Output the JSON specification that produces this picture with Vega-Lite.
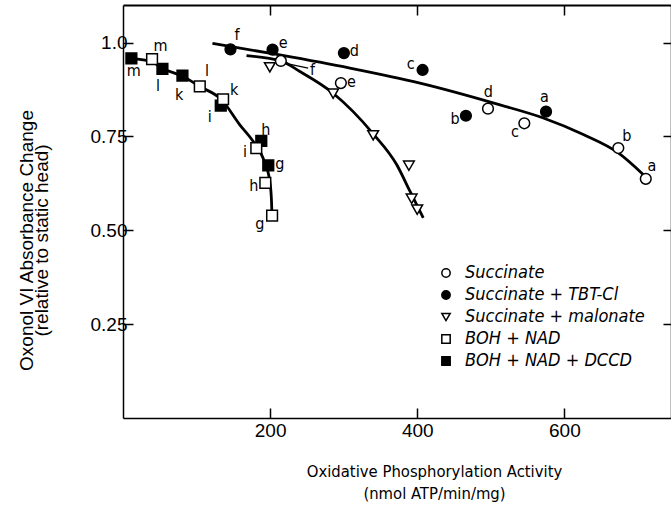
{
  "$schema": "https://vega.github.io/schema/vega-lite/v6.json",
  "width": 548,
  "height": 413,
  "autosize": {"type": "none"},
  "padding": {"left": 123, "top": 5, "right": 0, "bottom": 99},
  "background": "white",
  "config": {"view": {"stroke": null}, "font": "Liberation Sans"},
  "datasets": {
    "curves": [
      {"c": "succ", "o": 1, "x": 121.6, "y": 0.998},
      {"c": "succ", "o": 2, "x": 213.2, "y": 0.967},
      {"c": "succ", "o": 3, "x": 308.5, "y": 0.932},
      {"c": "succ", "o": 4, "x": 403.7, "y": 0.892},
      {"c": "succ", "o": 5, "x": 512.5, "y": 0.834},
      {"c": "succ", "o": 6, "x": 571.4, "y": 0.799},
      {"c": "succ", "o": 7, "x": 625.8, "y": 0.755},
      {"c": "succ", "o": 8, "x": 673.4, "y": 0.706},
      {"c": "succ", "o": 9, "x": 707.5, "y": 0.648},
      {"c": "malo", "o": 1, "x": 167.9, "y": 0.965},
      {"c": "malo", "o": 2, "x": 214.6, "y": 0.951},
      {"c": "malo", "o": 3, "x": 240.4, "y": 0.923},
      {"c": "malo", "o": 4, "x": 285.7, "y": 0.865},
      {"c": "malo", "o": 5, "x": 312.9, "y": 0.816},
      {"c": "malo", "o": 6, "x": 340.1, "y": 0.757},
      {"c": "malo", "o": 7, "x": 372.0, "y": 0.675},
      {"c": "malo", "o": 8, "x": 390.1, "y": 0.604},
      {"c": "malo", "o": 9, "x": 408.2, "y": 0.533},
      {"c": "boh", "o": 1, "x": 11.4, "y": 0.957},
      {"c": "boh", "o": 2, "x": 39.0, "y": 0.949},
      {"c": "boh", "o": 3, "x": 54.0, "y": 0.931},
      {"c": "boh", "o": 4, "x": 81.2, "y": 0.910},
      {"c": "boh", "o": 5, "x": 104.4, "y": 0.883},
      {"c": "boh", "o": 6, "x": 133.9, "y": 0.848},
      {"c": "boh", "o": 7, "x": 158.8, "y": 0.781},
      {"c": "boh", "o": 8, "x": 176.9, "y": 0.737},
      {"c": "boh", "o": 9, "x": 190.5, "y": 0.692},
      {"c": "boh", "o": 10, "x": 199.6, "y": 0.630},
      {"c": "boh", "o": 11, "x": 201.9, "y": 0.577},
      {"c": "boh", "o": 12, "x": 202.7, "y": 0.533}
    ],
    "points": [
      {"series": "Succinate + malonate", "x": 199.6, "y": 0.934},
      {"series": "Succinate + malonate", "x": 285.7, "y": 0.864},
      {"series": "Succinate + malonate", "x": 340.1, "y": 0.753},
      {"series": "Succinate + malonate", "x": 388.7, "y": 0.672},
      {"series": "Succinate + malonate", "x": 392.4, "y": 0.584},
      {"series": "Succinate + malonate", "x": 400.0, "y": 0.555},
      {"series": "BOH + NAD + DCCD", "x": 11.4, "y": 0.958},
      {"series": "BOH + NAD + DCCD", "x": 53.6, "y": 0.930},
      {"series": "BOH + NAD + DCCD", "x": 80.8, "y": 0.912},
      {"series": "BOH + NAD + DCCD", "x": 132.9, "y": 0.832},
      {"series": "BOH + NAD + DCCD", "x": 188.0, "y": 0.738},
      {"series": "BOH + NAD + DCCD", "x": 197.5, "y": 0.673},
      {"series": "BOH + NAD", "x": 39.5, "y": 0.956},
      {"series": "BOH + NAD", "x": 104.4, "y": 0.883},
      {"series": "BOH + NAD", "x": 136.1, "y": 0.849},
      {"series": "BOH + NAD", "x": 181.2, "y": 0.719},
      {"series": "BOH + NAD", "x": 193.5, "y": 0.626},
      {"series": "BOH + NAD", "x": 202.7, "y": 0.539},
      {"series": "Succinate + TBT-Cl", "x": 146.1, "y": 0.982},
      {"series": "Succinate + TBT-Cl", "x": 203.3, "y": 0.981},
      {"series": "Succinate + TBT-Cl", "x": 300.3, "y": 0.972},
      {"series": "Succinate + TBT-Cl", "x": 407.3, "y": 0.927},
      {"series": "Succinate + TBT-Cl", "x": 466.2, "y": 0.805},
      {"series": "Succinate + TBT-Cl", "x": 575.1, "y": 0.816},
      {"series": "Succinate", "x": 214.6, "y": 0.951},
      {"series": "Succinate", "x": 296.2, "y": 0.892},
      {"series": "Succinate", "x": 496.2, "y": 0.824},
      {"series": "Succinate", "x": 545.6, "y": 0.785},
      {"series": "Succinate", "x": 673.4, "y": 0.719},
      {"series": "Succinate", "x": 710.7, "y": 0.637}
    ],
    "labels": [
      {"t": "f", "x": 257.7, "y": 0.927},
      {"t": "e", "x": 310.7, "y": 0.894},
      {"t": "d", "x": 496.6, "y": 0.867},
      {"t": "c", "x": 532.9, "y": 0.761},
      {"t": "b", "x": 684.9, "y": 0.750},
      {"t": "a", "x": 718.9, "y": 0.672},
      {"t": "f", "x": 155.1, "y": 1.020},
      {"t": "e", "x": 217.7, "y": 1.000},
      {"t": "d", "x": 314.3, "y": 0.978},
      {"t": "c", "x": 391.0, "y": 0.942},
      {"t": "b", "x": 451.3, "y": 0.796},
      {"t": "a", "x": 572.8, "y": 0.855},
      {"t": "m", "x": 50.9, "y": 0.991},
      {"t": "l", "x": 114.3, "y": 0.923},
      {"t": "k", "x": 151.0, "y": 0.874},
      {"t": "i", "x": 166.0, "y": 0.708},
      {"t": "h", "x": 177.8, "y": 0.617},
      {"t": "g", "x": 186.0, "y": 0.517},
      {"t": "m", "x": 14.6, "y": 0.923},
      {"t": "l", "x": 47.6, "y": 0.885},
      {"t": "k", "x": 76.2, "y": 0.861},
      {"t": "i", "x": 118.0, "y": 0.801},
      {"t": "h", "x": 194.1, "y": 0.768},
      {"t": "g", "x": 213.2, "y": 0.676}
    ],
    "leader": [
      {"x": 224.4, "y": 0.943, "x2": 251.7, "y2": 0.932}
    ]
  },
  "layer": [
    {
      "data": {"name": "curves"},
      "mark": {"type": "line", "interpolate": "monotone", "color": "black", "strokeWidth": 2.8},
      "encoding": {
        "x": {
          "field": "x", "type": "quantitative",
          "scale": {"domain": [0, 745], "nice": false, "zero": false},
          "axis": {
            "orient": "bottom", "values": [200, 400, 600], "grid": false,
            "tickSize": -10, "tickWidth": 1.5, "tickColor": "black",
            "domainColor": "black", "domainWidth": 1.5,
            "labelFont": "Liberation Sans", "labelFontSize": 19, "labelColor": "black", "labelPadding": 13,
            "title": ["Oxidative Phosphorylation Activity", "(nmol ATP/min/mg)"],
            "titleFont": "DejaVu Sans Condensed, Roboto", "titleFontSize": 16.5, "titleFontWeight": "normal",
            "titleColor": "black", "titleX": 311, "titleY": 45, "titleBaseline": "top", "titleLineHeight": 22
          }
        },
        "y": {
          "field": "y", "type": "quantitative",
          "scale": {"domain": [0, 1.1], "nice": false, "zero": false},
          "axis": {
            "orient": "left", "values": [0.25, 0.5, 0.75, 1.0], "grid": false,
            "labelExpr": "datum.value == 1 ? '1.0' : format(datum.value, '.2f')",
            "tickSize": -10, "tickWidth": 1.5, "tickColor": "black",
            "domainColor": "black", "domainWidth": 1.5,
            "labelFont": "Liberation Sans", "labelFontSize": 19, "labelColor": "black", "labelPadding": 6,
            "title": ["Oxonol VI Absorbance Change", "(relative to static head)"],
            "titleFont": "Liberation Sans", "titleFontSize": 19, "titleFontWeight": "normal",
            "titleColor": "black", "titleX": -91, "titleY": 235, "titleAlign": "center",
            "titleBaseline": "alphabetic", "titleLineHeight": 15, "titleAngle": -90
          }
        },
        "detail": {"field": "c", "type": "nominal"},
        "order": {"field": "o", "type": "quantitative"}
      }
    },
    {
      "data": {"name": "points"},
      "mark": {"type": "point", "strokeWidth": 1.5, "opacity": 1, "size": 115},
      "encoding": {
        "x": {
          "field": "x", "type": "quantitative",
          "axis": {
            "orient": "top", "values": [200, 400, 600], "grid": false, "labels": false, "title": null,
            "tickSize": -10, "tickWidth": 1.5, "tickColor": "black",
            "domainColor": "black", "domainWidth": 2
          }
        },
        "y": {
          "field": "y", "type": "quantitative",
          "axis": {
            "orient": "right", "values": [0.25, 0.5, 0.75, 1.0], "grid": false, "labels": false, "title": null,
            "tickSize": -8, "tickWidth": 1.5, "tickColor": "black",
            "domainColor": "black", "domainWidth": 1.5
          }
        },
        "shape": {
          "field": "series", "type": "nominal",
          "scale": {
            "domain": ["Succinate", "Succinate + TBT-Cl", "Succinate + malonate", "BOH + NAD", "BOH + NAD + DCCD"],
            "range": ["circle", "circle", "triangle-down", "square", "square"]
          },
          "legend": {
            "title": null, "orient": "none", "legendX": 314, "legendY": 259,
            "labelFont": "DejaVu Sans Condensed, Roboto", "labelFontStyle": "italic", "labelFontSize": 18,
            "labelColor": "black", "labelOffset": 10, "labelLimit": 400, "rowPadding": 4, "padding": 0,
            "symbolSize": 70, "symbolStrokeWidth": 1.5
          }
        },
        "fill": {
          "field": "series", "type": "nominal",
          "scale": {
            "domain": ["Succinate", "Succinate + TBT-Cl", "Succinate + malonate", "BOH + NAD", "BOH + NAD + DCCD"],
            "range": ["white", "black", "white", "white", "black"]
          },
          "legend": {
            "title": null, "orient": "none", "legendX": 314, "legendY": 259,
            "labelFont": "DejaVu Sans Condensed, Roboto", "labelFontStyle": "italic", "labelFontSize": 18,
            "labelColor": "black", "labelOffset": 10, "labelLimit": 400, "rowPadding": 4, "padding": 0,
            "symbolSize": 70, "symbolStrokeWidth": 1.5
          }
        },
        "stroke": {
          "field": "series", "type": "nominal",
          "scale": {
            "domain": ["Succinate", "Succinate + TBT-Cl", "Succinate + malonate", "BOH + NAD", "BOH + NAD + DCCD"],
            "range": ["black", "black", "black", "black", "black"]
          },
          "legend": {
            "title": null, "orient": "none", "legendX": 314, "legendY": 259,
            "labelFont": "DejaVu Sans Condensed, Roboto", "labelFontStyle": "italic", "labelFontSize": 18,
            "labelColor": "black", "labelOffset": 10, "labelLimit": 400, "rowPadding": 4, "padding": 0,
            "symbolSize": 70, "symbolStrokeWidth": 1.5
          }
        }
      }
    },
    {
      "data": {"name": "leader"},
      "mark": {"type": "rule", "color": "black", "strokeWidth": 1.2},
      "encoding": {
        "x": {"field": "x", "type": "quantitative", "axis": null},
        "y": {"field": "y", "type": "quantitative", "axis": null},
        "x2": {"field": "x2"},
        "y2": {"field": "y2"}
      }
    },
    {
      "data": {"name": "labels"},
      "mark": {"type": "text", "font": "DejaVu Sans Condensed, Roboto", "fontSize": 16, "color": "black", "align": "center", "baseline": "middle"},
      "encoding": {
        "x": {"field": "x", "type": "quantitative", "axis": null},
        "y": {"field": "y", "type": "quantitative", "axis": null},
        "text": {"field": "t", "type": "nominal"}
      }
    }
  ],
  "resolve": {"axis": {"x": "independent", "y": "independent"}}
}
